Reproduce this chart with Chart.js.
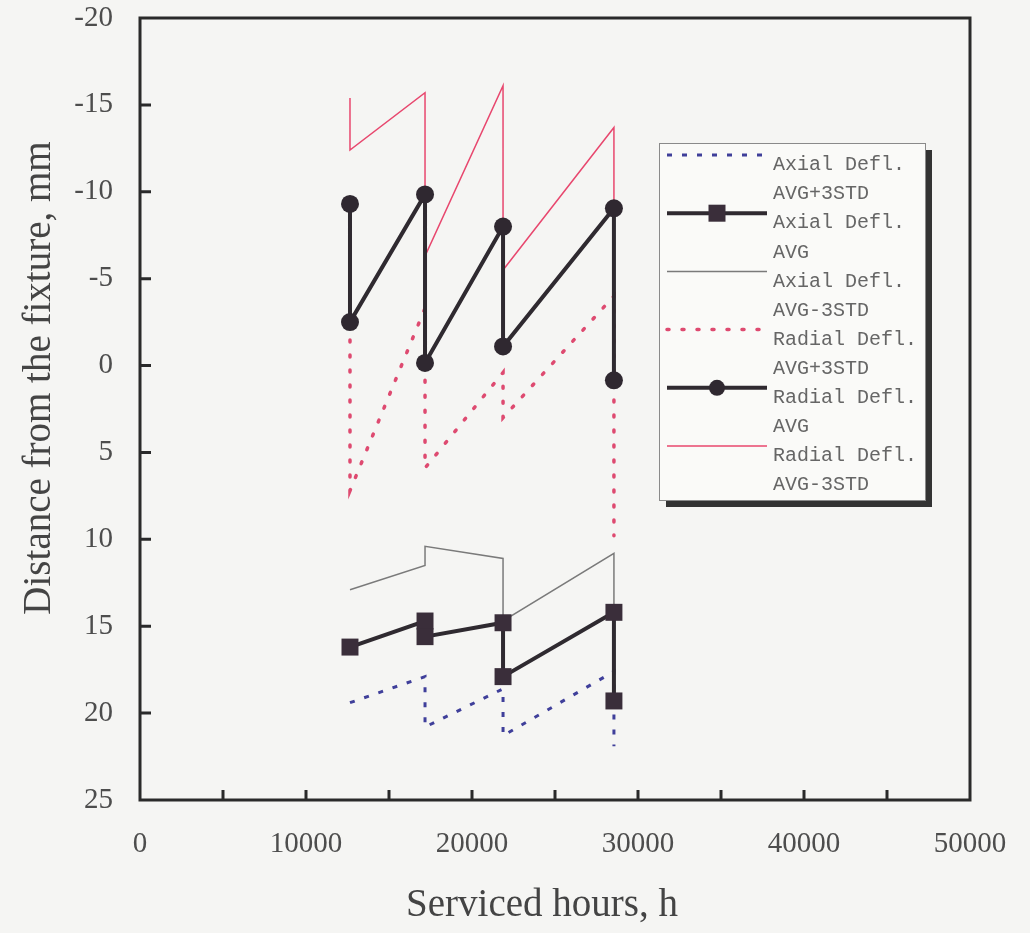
<!DOCTYPE html>
<html>
<head>
<meta charset="utf-8">
<script src="https://cdn.jsdelivr.net/npm/chart.js@4.4.0/dist/chart.umd.min.js"></script>
<style>
html, body { margin: 0; padding: 0; background: #f5f5f3; }
#wrap { width: 1030px; height: 933px; position: relative; }
</style>
</head>
<body>
<div id="wrap"><canvas id="deflection-chart"></canvas></div>
<script>
// serviced hours for each point (pairs at the same inspection)
const axialHours = [12650, 17170, 17170, 21870, 21870, 28550, 28550];
const radialHours = [12650, 12650, 17170, 17170, 21870, 21870, 28550, 28550];

const axialPlus3Std = [19.4, 17.9, 20.8, 18.6, 21.3, 17.6, 21.9];
const axialAvg = [16.2, 14.7, 15.6, 14.8, 17.9, 14.2, 19.3];
const axialMinus3Std = [12.9, 11.5, 10.4, 11.1, 14.7, 10.8, 14.2];

const radialPlus3Std = [-3.2, 7.2, -3.3, 5.9, 0.4, 3.0, -4.0, 9.8];
const radialAvg = [-9.3, -2.5, -9.85, -0.15, -8.0, -1.1, -9.05, 0.85];
const radialMinus3Std = [-15.4, -12.4, -15.7, -6.3, -16.1, -5.5, -13.7, -8.2];

const seriesLabels = [
    'Axial Defl.\nAVG+3STD',
    'Axial Defl.\nAVG',
    'Axial Defl.\nAVG-3STD',
    'Radial Defl.\nAVG+3STD',
    'Radial Defl.\nAVG',
    'Radial Defl.\nAVG-3STD',
];

function points(xs, ys) {
    return xs.map((x, i) => ({ x: x, y: ys[i] }));
}

const textColor = '#4d4d4d';
const serif = '"Liberation Serif", "Times New Roman", serif';

const bgPlugin = {
    id: 'bg',
    beforeDraw(chart) {
        const ctx = chart.ctx;
        ctx.save();
        ctx.fillStyle = '#f5f5f3';
        ctx.fillRect(0, 0, chart.width, chart.height);
        ctx.restore();
    }
};

// frame with inward tick marks, plus axis titles
const framePlugin = {
    id: 'frame',
    afterDraw(chart) {
        const ctx = chart.ctx;
        const a = chart.chartArea;
        const xs = chart.scales.x, ys = chart.scales.y;
        ctx.save();
        ctx.strokeStyle = '#2a2a2a';
        ctx.lineWidth = 3;
        ctx.strokeRect(a.left, a.top, a.right - a.left, a.bottom - a.top);
        ctx.beginPath();
        for (let v = 5000; v < 50000; v += 5000) {
            const px = xs.getPixelForValue(v);
            ctx.moveTo(px, a.bottom);
            ctx.lineTo(px, a.bottom - 10);
        }
        for (let v = -15; v < 25; v += 5) {
            const py = ys.getPixelForValue(v);
            ctx.moveTo(a.left, py);
            ctx.lineTo(a.left + 11, py);
        }
        ctx.stroke();

        ctx.fillStyle = '#444';
        ctx.font = '39px ' + serif;
        ctx.textAlign = 'center';
        ctx.textBaseline = 'middle';
        ctx.fillText('Serviced hours, h', 542, 906);
        ctx.translate(40, 378);
        ctx.rotate(-Math.PI / 2);
        ctx.fillText('Distance from the fixture, mm', 0, 0);
        ctx.restore();
    }
};

const legendPlugin = {
    id: 'boxLegend',
    afterDraw(chart) {
        const ctx = chart.ctx;
        const left = 659, top = 143, right = 925, bottom = 500, shadow = 7;
        ctx.save();
        ctx.fillStyle = '#333';
        ctx.fillRect(left + shadow, top + shadow, right - left, bottom - top);
        ctx.fillStyle = '#fafaf8';
        ctx.fillRect(left, top, right - left, bottom - top);
        ctx.strokeStyle = '#8a8a8a';
        ctx.lineWidth = 1;
        ctx.strokeRect(left + 0.5, top + 0.5, right - left, bottom - top);

        chart.data.datasets.forEach((ds, i) => {
            const ty = 165 + 58.2 * i;
            const sy = ty - 10;
            ctx.save();
            ctx.strokeStyle = ds.borderColor;
            ctx.lineWidth = ds.borderWidth;
            ctx.lineCap = ds.borderCapStyle || 'butt';
            ctx.setLineDash(ds.borderDash || []);
            ctx.beginPath();
            ctx.moveTo(667, sy);
            ctx.lineTo(767, sy);
            ctx.stroke();
            ctx.restore();
            if (ds.pointRadius > 0) {
                ctx.fillStyle = ds.pointBackgroundColor;
                if (ds.pointStyle === 'rect') {
                    ctx.fillRect(717 - 8.5, sy - 8.5, 17, 17);
                } else {
                    ctx.beginPath();
                    ctx.arc(717, sy, 8, 0, Math.PI * 2);
                    ctx.fill();
                }
            }
            ctx.fillStyle = '#666';
            ctx.font = '20px "Liberation Mono", monospace';
            ctx.textAlign = 'left';
            ctx.textBaseline = 'middle';
            ds.label.split('\n').forEach((line, j) => {
                ctx.fillText(line, 773, ty + 29.1 * j);
            });
        });
        ctx.restore();
    }
};

const deflectionData = {
    datasets: [{
        label: seriesLabels[0],
        data: points(axialHours, axialPlus3Std),
        borderColor: '#3f3f9a',
        borderWidth: 3,
        borderDash: [5, 10],
        pointRadius: 0,
        order: 2,
    }, {
        label: seriesLabels[1],
        data: points(axialHours, axialAvg),
        borderColor: '#2f2a30',
        borderWidth: 4,
        pointStyle: 'rect',
        pointRadius: 12,
        pointBackgroundColor: '#3a2e3a',
        pointBorderWidth: 0,
        order: 0,
    }, {
        label: seriesLabels[2],
        data: points(axialHours, axialMinus3Std),
        borderColor: '#7a7a7a',
        borderWidth: 1.5,
        pointRadius: 0,
        order: 1,
    }, {
        label: seriesLabels[3],
        data: points(radialHours, radialPlus3Std),
        borderColor: '#de4a70',
        borderWidth: 3.5,
        borderDash: [2, 13],
        borderCapStyle: 'round',
        pointRadius: 0,
        order: 2,
    }, {
        label: seriesLabels[4],
        data: points(radialHours, radialAvg),
        borderColor: '#2f2a30',
        borderWidth: 4,
        pointStyle: 'circle',
        pointRadius: 9,
        pointBackgroundColor: '#2f2830',
        pointBorderWidth: 0,
        order: 0,
    }, {
        label: seriesLabels[5],
        data: points(radialHours, radialMinus3Std),
        borderColor: '#e8476e',
        borderWidth: 1.5,
        pointRadius: 0,
        order: 1,
    }]
};

const deflectionConfig = {
    type: 'line',
    data: deflectionData,
    options: {
        responsive: true,
        maintainAspectRatio: false,
        animation: false,
        layout: { padding: { top: 18, right: 60, left: 0, bottom: 0 } },
        elements: { line: { tension: 0 } },
        plugins: {
            legend: { display: false },
            tooltip: { enabled: false },
        },
        scales: {
            x: {
                type: 'linear',
                min: 0,
                max: 50000,
                grid: { display: false },
                border: { display: false },
                ticks: {
                    stepSize: 10000,
                    padding: 19,
                    color: textColor,
                    font: { family: serif, size: 29 },
                    callback: (v) => String(v),
                },
                afterFit: (s) => { s.height = 133; s.paddingLeft = 0; s.paddingRight = 0; },
            },
            y: {
                reverse: true,
                min: -20,
                max: 25,
                grid: { display: false },
                border: { display: false },
                ticks: {
                    stepSize: 5,
                    padding: 19,
                    color: textColor,
                    font: { family: serif, size: 29 },
                    callback: (v) => String(v),
                },
                afterFit: (s) => { s.width = 140; s.paddingTop = 0; s.paddingBottom = 0; },
            }
        }
    },
    plugins: [bgPlugin, framePlugin, legendPlugin]
};

const deflectionChart = new Chart(document.getElementById('deflection-chart'), deflectionConfig);
</script>
</body>
</html>
